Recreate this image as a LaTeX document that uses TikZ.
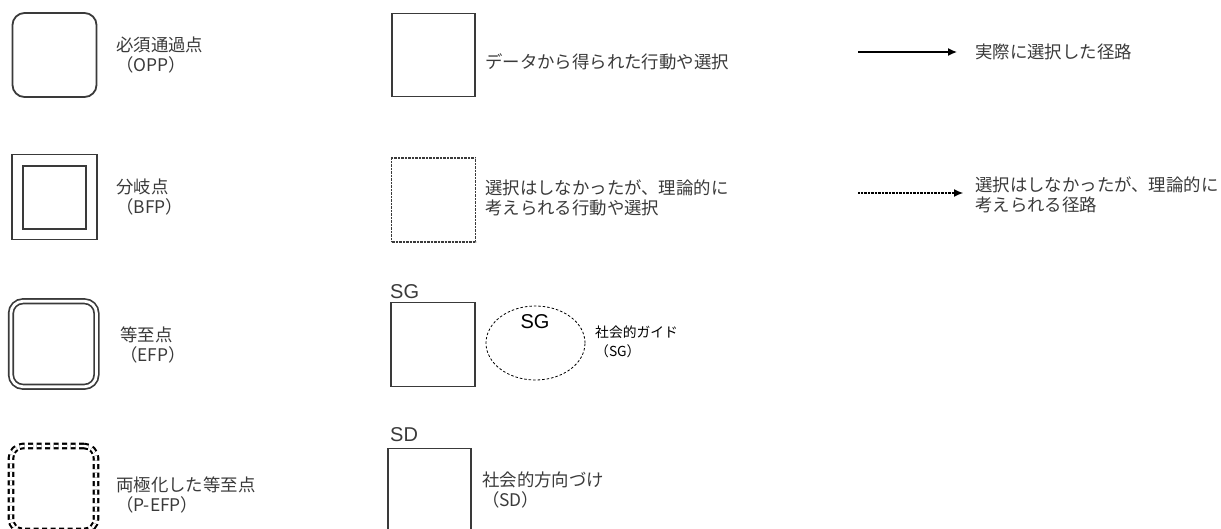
\documentclass[tikz,border=0pt]{standalone}
\usepackage{fontspec}
\setmainfont{Noto Sans CJK JP}
\newfontfamily\latinsf{Liberation Sans}
\usetikzlibrary{shapes.geometric,arrows.meta}
\definecolor{ink}{HTML}{3A3A3A}
\tikzset{
  box/.style={draw=ink, line width=1.8pt, fill=none, inner sep=0pt, minimum size=#1, rectangle},
  rbox/.style={box=#1, rounded corners=12pt},
  lbl/.style={anchor=west, inner sep=0pt, align=left, text=ink, font=\fontsize{17.4}{20}\selectfont},
  slbl/.style={anchor=west, inner sep=0pt, align=left, text=black, font=\fontsize{13.8}{19}\selectfont},
  tag/.style={anchor=west, inner sep=0pt, text=ink, font=\latinsf\fontsize{20}{22}\selectfont},
  arr/.style={-{Latex[length=9pt,width=8pt]}, line width=1.3pt, draw=black},
}
\begin{document}
\begin{tikzpicture}[x=1pt,y=-1pt]
\useasboundingbox (0,0) rectangle (1221,528);
% left column
\node[rbox=84pt] (opp) at (54.5,55) {};
\node[lbl] (opptxt) at (116,55.5) {必須通過点\\（OPP）};
\node[box=85pt] (bfpo) at (54.5,197) {};
\node[box=63pt] (bfpi) at (54.5,197.5) {};
\node[lbl] (bfptxt) at (116,197.5) {分岐点\\（BFP）};
\node[rbox=85.5pt, double=white, double distance=2.8pt, line width=1.7pt] (efp) at (53.7,344) {};
\node[lbl] (efptxt) at (120,344.5) {等至点\\（EFP）};
\node[rbox=85pt, draw=black, double=white, double distance=2.4pt, line width=2.1pt, dash pattern=on 5pt off 3.5pt] (pefp) at (53.5,488.5) {};
\node[lbl] (pefptxt) at (116,494.5) {両極化した等至点\\（P-EFP）};
% middle column
\node[box=83pt] (data) at (433.3,55) {};
\node[lbl] (datatxt) at (485,62) {データから得られた行動や選択};
\node[box=84pt, line width=1.1pt, dash pattern=on 0.8pt off 0.6pt] (theo) at (433.5,200) {};
\node[lbl] (theotxt) at (485,197.5) {選択はしなかったが、理論的に\\考えられる行動や選択};
\node[box=84pt] (sgbox) at (433,344.5) {};
\node[tag] (sgtag) at (390,292) {SG};
\node[draw=black, line width=0.8pt, dash pattern=on 2.5pt off 2pt, ellipse, minimum width=99pt, minimum height=74pt, inner sep=0pt] (sgell) at (535.5,343) {};
\node[tag, anchor=center, text=black] (sgin) at (535,322) {SG};
\node[slbl] (sgtxt) at (595,341.5) {社会的ガイド\\（SG）};
\node[box=83pt] (sdbox) at (429.5,490) {};
\node[tag] (sdtag) at (390,435) {SD};
\node[lbl] (sdtxt) at (482,489.5) {社会的方向づけ\\（SD）};
% right column
\coordinate (a1s) at (858,52);
\coordinate (a1e) at (957,52);
\draw[arr] (a1s) -- (a1e);
\node[lbl] (a1txt) at (975,52) {実際に選択した径路};
\coordinate (a2s) at (858,193);
\coordinate (a2e) at (963,193);
\draw[arr, line width=1.1pt, dash pattern=on 0.8pt off 0.6pt] (a2s) -- (a2e);
\node[lbl] (a2txt) at (975,195) {選択はしなかったが、理論的に\\考えられる径路};
\end{tikzpicture}
\end{document}
